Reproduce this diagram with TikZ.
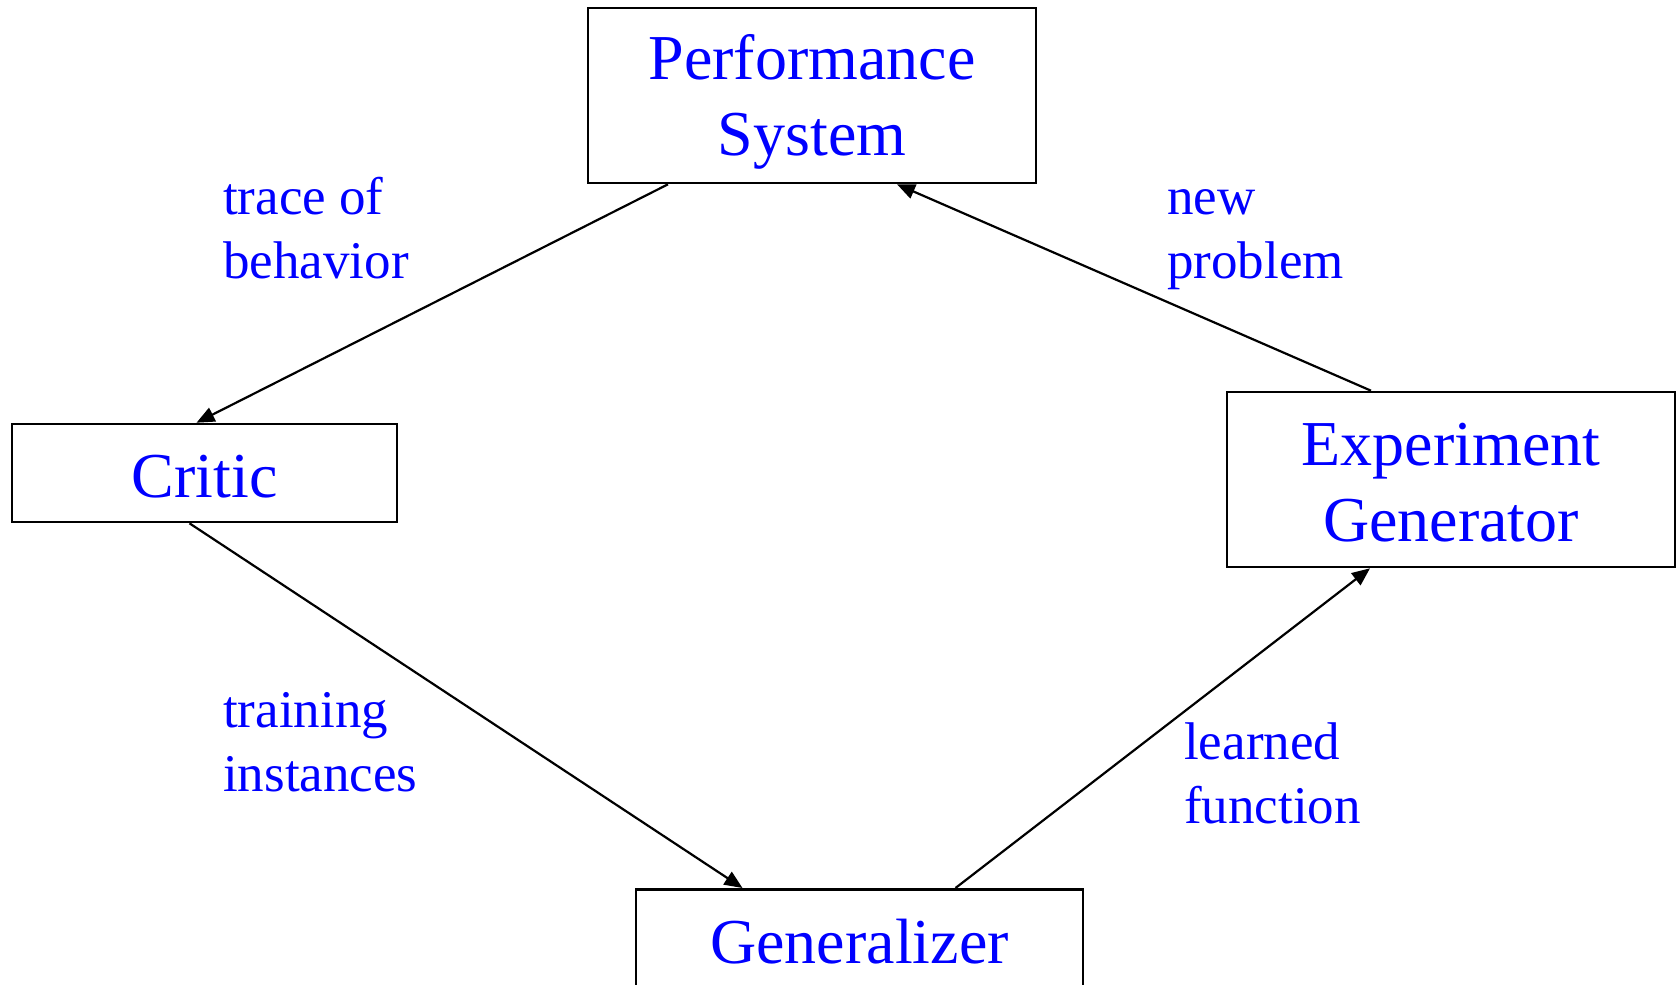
\documentclass[tikz,border=0pt]{standalone}
\usepackage{fontspec}
\setmainfont{Liberation Serif}
\usetikzlibrary{arrows.meta}
\definecolor{txtblue}{RGB}{0,0,255}
% tall invisible strut that sets the height of a first line
\newcommand{\topstrut}[1]{\rule{0pt}{#1}}
\begin{document}
\begin{tikzpicture}[x=1pt,y=-1pt,
  box/.style={draw=black, line width=2.6pt, fill=white, text=txtblue,
    font=\fontsize{64}{76}\selectfont, align=center, inner sep=0pt},
  lbl/.style={text=txtblue, font=\fontsize{53}{64}\selectfont, align=left,
    inner sep=0pt, anchor=base west},
  flow/.style={draw=black, line width=2.2pt,
    -{Triangle[length=18pt,width=15pt]}}]
\useasboundingbox (0,0) rectangle (1676,985);
% boxes
\node[box, minimum width=448pt, minimum height=175pt] (perf) at (812,95.5) {\topstrut{58pt}Performance\\System};
\node[box, minimum width=385pt, minimum height=98pt] (critic) at (204.5,473) {\topstrut{49pt}Critic};
\node[box, minimum width=448pt, minimum height=175pt] (exp) at (1451,479.5) {\topstrut{48pt}Experiment\\Generator};
\node[box, minimum width=447pt, minimum height=104pt, anchor=north] (gen) at (859.5,888) {Generalizer};
% connectors
\draw[flow] ([xshift=-144pt]perf.south) -- ([xshift=-8pt]critic.north);
\draw[flow] ([xshift=-15pt]critic.south) -- ([xshift=-117pt]gen.north);
\draw[flow] ([xshift=96pt]gen.north) -- ([xshift=-81pt]exp.south);
\draw[flow] ([xshift=-80pt]exp.north) -- ([xshift=85pt]perf.south);
% labels (anchored at the baseline of their last line)
\node[lbl] (l1) at (223,278) {trace of\\behavior};
\node[lbl] (l2) at (1167,278) {new\\problem};
\node[lbl] (l3) at (223,791) {training\\instances};
\node[lbl] (l4) at (1184,823) {learned\\function};
\end{tikzpicture}
\end{document}
